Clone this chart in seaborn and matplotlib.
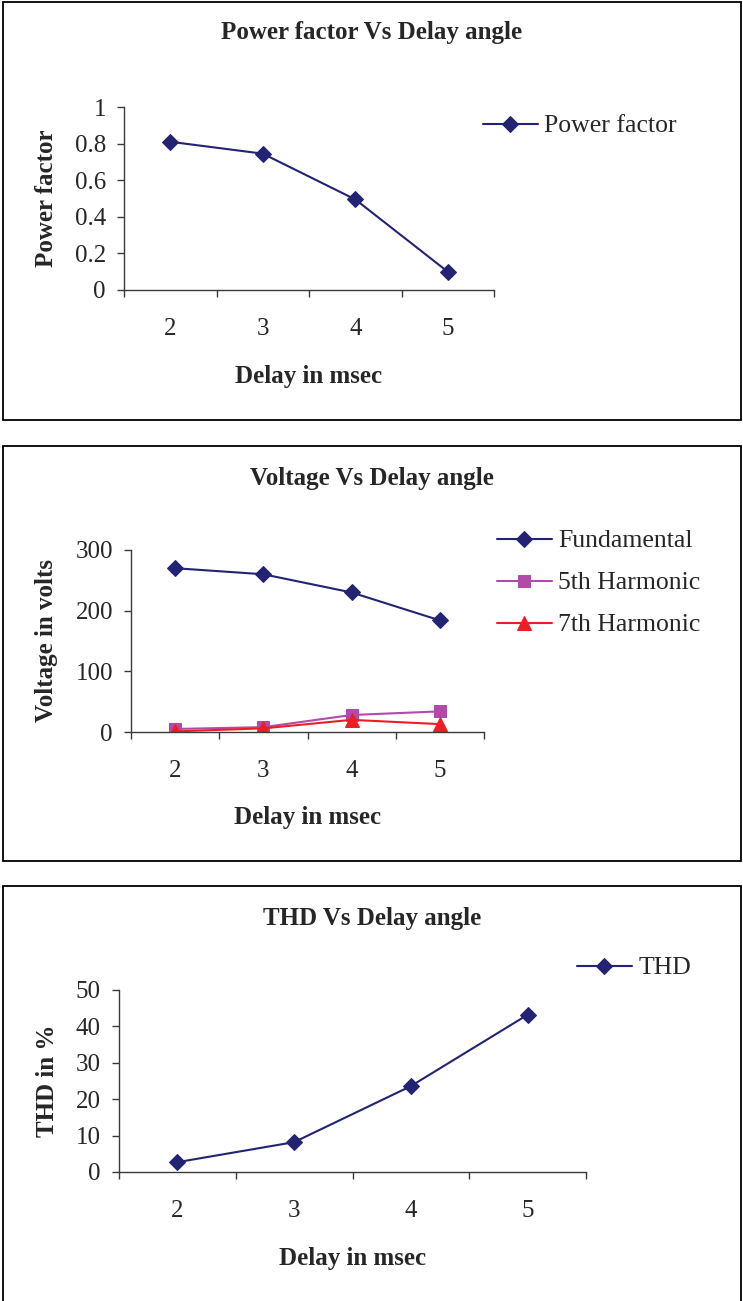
import matplotlib
matplotlib.use("Agg")
import matplotlib.pyplot as plt
from matplotlib.patches import Rectangle
from matplotlib.ticker import FuncFormatter
import seaborn as sns

# ---------------- data ----------------
delay_ms = [2, 3, 4, 5]
power_factor = [0.81, 0.745, 0.495, 0.10]
v_fundamental = [270, 260, 230, 184]
v_5th = [5, 8, 28, 34]
v_7th = [1, 6, 20, 13]
thd_pct = [2.7, 8.2, 23.6, 43.2]

NAVY = "#232373"
MAGENTA = "#B24BA8"
RED = "#EE1D25"
AXIS_C = "#3a3a3a"

W, H = 743, 1301

sns.set_theme(style="white")
plt.rcParams["font.family"] = ["Liberation Serif", "DejaVu Serif"]

fig = plt.figure(figsize=(W / 100, H / 100), dpi=100)


def frame(top, bottom):
    # black box round each chart, as in the pasted Excel charts
    fig.add_artist(Rectangle((3 / W, 1 - bottom / H), 738 / W, (bottom - top) / H,
                             transform=fig.transFigure, fill=False, lw=1.3, ec="black"))


def make_axes(left, top, right, bottom):
    return fig.add_axes([left / W, 1 - bottom / H, (right - left) / W, (bottom - top) / H])


def style_axes(ax, box, yticks, ylabel, xlabel_y, title, title_y):
    left, top, right, bottom = box
    ax.set_xlim(1.5, 5.5)
    ax.set_ylim(yticks[0], yticks[-1])
    ax.set_yticks(yticks)
    ax.yaxis.set_major_formatter(FuncFormatter(lambda v, p: f"{v:g}"))
    # labels sit in the middle of each category, tick marks between them
    ax.set_xticks(delay_ms)
    ax.set_xticks([1.5, 2.5, 3.5, 4.5, 5.5], minor=True)
    ax.tick_params(axis="x", which="major", length=0, pad=20, labelsize=18)
    ax.tick_params(axis="x", which="minor", length=5, width=1, color=AXIS_C, direction="out", bottom=True)
    ax.tick_params(axis="y", length=5, width=1, color=AXIS_C, direction="out", left=True,
                   pad=8, labelsize=18)
    for s in ["top", "right"]:
        ax.spines[s].set_visible(False)
    for s in ["left", "bottom"]:
        ax.spines[s].set_color(AXIS_C)
        ax.spines[s].set_linewidth(1.0)
    ax.set_facecolor("none")

    ax.set_ylabel(ylabel, fontsize=18, fontweight="bold")
    ax.yaxis.set_label_coords((47 - left) / (right - left), 0.5)
    ax.yaxis.label.set_va("center")
    ax.set_xlabel("Delay in msec", fontsize=18, fontweight="bold")
    ax.xaxis.set_label_coords(0.5, -(xlabel_y - bottom) / (bottom - top))
    ax.xaxis.label.set_va("center")

    fig.text(372 / W, 1 - title_y / H, title, ha="center", va="center",
             fontsize=18, fontweight="bold")


def place_legend(ax, x, y):
    ax.legend(loc="center left", bbox_to_anchor=(x / W, 1 - y / H),
              bbox_transform=fig.transFigure, frameon=False, borderpad=0,
              borderaxespad=0, handlelength=2.14, handletextpad=0.25,
              labelspacing=0.74, fontsize=18.5)


# ---------------- panel 1: power factor ----------------
frame(2, 420)
box1 = (124, 107, 494, 290)
ax1 = make_axes(*box1)
sns.lineplot(x=delay_ms, y=power_factor, color=NAVY, marker="D", markersize=8,
             markeredgecolor=NAVY, linewidth=1.5, label="Power factor", ax=ax1)
style_axes(ax1, box1, [0, 0.2, 0.4, 0.6, 0.8, 1.0], "Power factor", 377,
           "Power factor Vs Delay angle", 33)
place_legend(ax1, 483, 126)

# ---------------- panel 2: voltage ----------------
frame(446, 861)
box2 = (131, 550, 484, 732)
ax2 = make_axes(*box2)
sns.lineplot(x=delay_ms, y=v_fundamental, color=NAVY, marker="D", markersize=8,
             markeredgecolor=NAVY, linewidth=1.5, label="Fundamental", ax=ax2)
sns.lineplot(x=delay_ms, y=v_5th, color=MAGENTA, marker="s", markersize=8,
             markeredgecolor=MAGENTA, linewidth=1.5, label="5th Harmonic", ax=ax2)
sns.lineplot(x=delay_ms, y=v_7th, color=RED, marker="^", markersize=10,
             markeredgecolor=RED, linewidth=1.5, label="7th Harmonic", ax=ax2)
style_axes(ax2, box2, [0, 100, 200, 300], "Voltage in volts", 817,
           "Voltage Vs Delay angle", 478)
place_legend(ax2, 497, 583)

# ---------------- panel 3: THD ----------------
frame(886, 1320)
box3 = (119, 990, 586, 1172)
ax3 = make_axes(*box3)
sns.lineplot(x=delay_ms, y=thd_pct, color=NAVY, marker="D", markersize=8,
             markeredgecolor=NAVY, linewidth=1.5, label="THD", ax=ax3)
style_axes(ax3, box3, [0, 10, 20, 30, 40, 50], "THD in %", 1258,
           "THD Vs Delay angle", 918)
place_legend(ax3, 577, 968)

fig.savefig("out.png", dpi=100)
